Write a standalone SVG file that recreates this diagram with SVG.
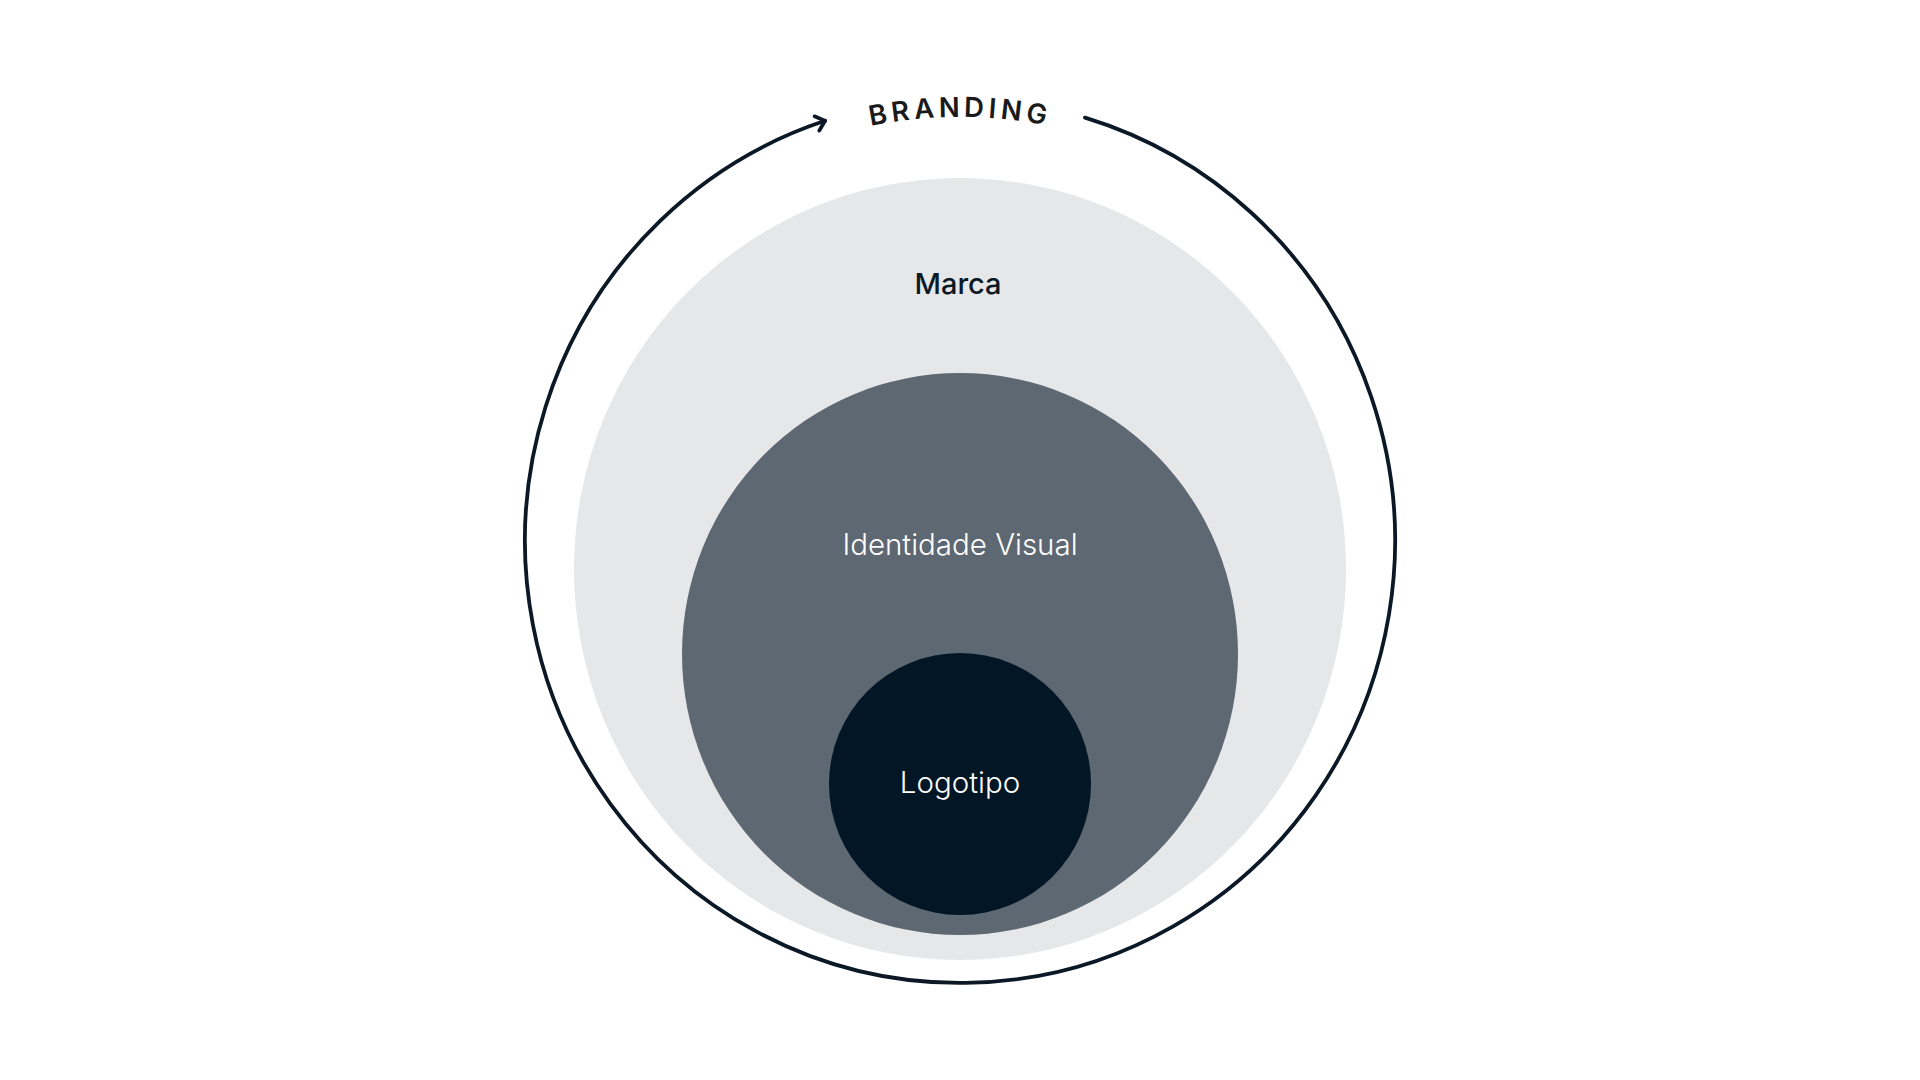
<svg xmlns="http://www.w3.org/2000/svg" width="1920" height="1080" viewBox="0 0 1920 1080">
  <style>
    .lbl { font-family: "Inter", "DejaVu Sans", sans-serif; text-anchor: middle; }
    .marca { font-size: 29px; font-weight: 500; fill: #0B1826; }
    .white { font-size: 29.5px; font-weight: 300; fill: #FFFFFF; }
    .brand { font-family: "Inter", "DejaVu Sans", sans-serif; font-size: 27.5px; font-weight: 600; fill: #1A1A1A; letter-spacing: 4.3px; }
    .ring { fill: none; stroke: #0B1826; stroke-width: 3.8; stroke-linecap: round; }
  </style>
  <defs>
    <marker id="chev" viewBox="-12 -10 14 20" markerWidth="14" markerHeight="20" refX="0" refY="0" orient="auto" markerUnits="userSpaceOnUse">
      <path d="M-8.5,-7.5 L0,0 L-8.5,7.5" fill="none" stroke="#0B1826" stroke-width="3.8" stroke-linecap="round" stroke-linejoin="miter"/>
    </marker>
    <path id="brandPath" d="M 510,567 A 450 450 0 0 1 1410,567"/>
  </defs>
  <rect width="1920" height="1080" fill="#FFFFFF"/>

  <g id="marca">
    <ellipse cx="960" cy="569" rx="386" ry="391" fill="#E6E7E9"/>
    <text class="lbl marca" x="958" y="294">Marca</text>
  </g>
  <g id="identidade-visual">
    <ellipse cx="960" cy="654" rx="278" ry="281" fill="#5D6872"/>
    <text class="lbl white" x="960" y="555">Identidade Visual</text>
  </g>
  <g id="logotipo">
    <circle cx="960" cy="784" r="131" fill="#021626"/>
    <text class="lbl white" x="960" y="793">Logotipo</text>
  </g>

  <g id="connectors">
    <path class="ring" d="M 1085,117.6 A 435 442 0 1 1 825,120.8" marker-end="url(#chev)"/>
  </g>

  <g id="branding">
    <text class="brand"><textPath href="#brandPath" startOffset="50%" text-anchor="middle" dx="2.2">BRANDING</textPath></text>
  </g>
</svg>
